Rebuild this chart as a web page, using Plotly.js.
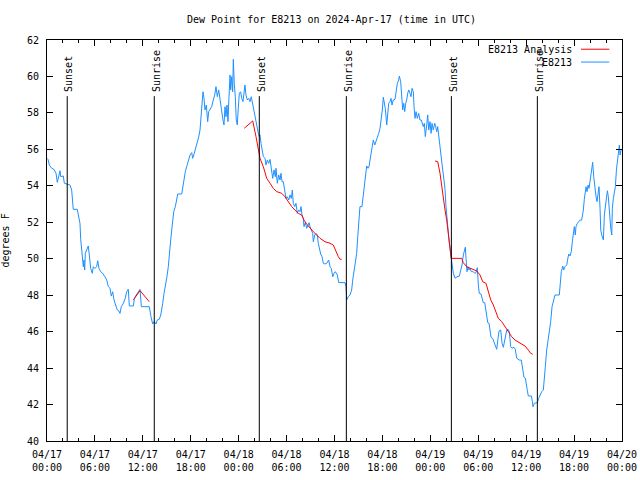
<!DOCTYPE html>
<html>
<head>
<meta charset="utf-8">
<script src="https://cdn.plot.ly/plotly-3.0.1.min.js"></script>
<style>html,body{margin:0;padding:0;background:#fff;}#chart{width:640px;height:480px;}</style>
</head>
<body>
<div id="chart"></div>
<script>
// Hours since 2024-04-17 00:00 UTC
const obsHours = [
0.05,0.13,0.29,0.59,0.88,1.13,1.29,1.42,1.63,1.72,
2.04,2.17,2.54,2.88,3.09,3.17,3.29,3.79,3.92,4.13,
4.22,4.35,4.47,4.55,4.63,4.72,4.80,4.97,5.17,5.30,
5.47,5.67,5.80,6.01,6.22,6.35,6.51,6.72,6.97,7.26,
7.48,7.68,7.89,8.05,8.23,8.39,8.60,8.80,8.98,9.14,
9.30,9.55,9.80,9.98,10.18,10.31,10.81,10.93,11.11,11.36,
11.65,11.81,12.81,13.02,13.23,13.44,13.65,13.81,14.06,14.24,
14.36,14.49,14.65,14.78,14.99,15.19,15.31,15.49,15.62,15.74,
15.87,16.07,16.24,16.37,16.87,16.99,17.16,17.32,17.49,17.69,
17.91,18.12,18.24,18.44,18.62,18.82,19.0,19.16,19.28,19.41,
19.53,19.66,19.78,19.95,20.12,20.25,20.41,20.62,20.82,21.0,
21.16,21.33,21.5,21.66,21.83,22.0,22.16,22.29,22.41,22.54,
22.66,22.79,22.92,23.0,23.13,23.25,23.33,23.45,23.58,23.70,
23.83,23.95,24.08,24.25,24.38,24.54,24.67,24.79,24.92,25.08,
25.26,25.42,25.58,25.76,25.92,26.05,26.26,26.46,26.58,26.67,
26.80,26.96,27.09,27.30,27.42,27.59,27.76,27.93,28.09,28.26,
28.43,28.59,28.68,28.84,29.01,29.18,29.30,29.43,29.59,29.80,
29.93,30.09,30.27,30.43,30.59,30.72,30.84,31.02,31.18,31.34,
31.52,31.68,31.81,31.93,32.09,32.18,32.34,32.52,32.68,32.81,
32.93,33.10,33.27,33.35,33.52,33.68,33.85,33.97,34.10,34.27,
34.44,34.60,34.81,35.03,35.27,35.44,35.60,35.78,35.94,36.10,
36.35,36.53,37.32,37.44,37.53,37.73,37.94,38.15,38.28,38.44,
38.66,38.78,38.91,39.03,39.19,39.44,39.61,39.73,39.86,40.03,
40.20,40.32,40.45,40.57,40.70,40.86,41.04,41.20,41.36,41.54,
41.70,41.86,41.99,42.11,42.24,42.36,42.54,42.66,42.79,42.95,
43.08,43.20,43.36,43.58,43.70,43.87,44.04,44.12,44.29,44.37,
44.54,44.67,44.79,44.92,45.04,45.17,45.29,45.45,45.58,45.71,
45.87,45.96,46.08,46.21,46.37,46.54,46.71,46.87,47.0,47.12,
47.25,47.37,47.55,47.67,47.80,47.96,48.09,48.21,48.37,48.55,
48.67,48.80,48.92,49.05,49.17,49.30,49.42,49.55,49.71,49.84,
49.96,50.09,50.21,50.34,50.46,50.62,50.75,50.88,51.09,51.34,
51.63,51.80,51.97,52.13,52.25,52.38,52.47,52.59,52.72,52.84,
52.97,53.13,53.38,53.56,53.72,53.88,54.01,54.13,54.35,54.47,
54.63,54.81,54.93,55.06,55.19,55.35,55.47,55.60,55.81,55.97,
56.14,56.31,56.48,56.60,56.81,56.98,57.14,57.27,57.44,57.57,
57.73,57.89,58.06,58.23,58.48,58.64,58.82,59.14,59.39,59.57,
59.73,59.90,60.02,60.15,60.27,60.65,60.78,60.86,61.02,61.20,
61.40,61.57,61.73,61.95,62.15,62.27,62.40,62.57,62.74,62.90,
63.07,63.24,63.40,63.61,64.15,64.28,64.40,64.58,64.70,64.86,
65.08,65.20,65.33,65.49,65.65,65.78,65.90,66.03,66.15,66.24,
66.41,66.58,66.74,66.95,67.16,67.28,67.41,67.50,67.62,67.75,
67.87,68.0,68.12,68.25,68.33,68.46,68.58,68.75,68.87,69.0,
69.12,69.25,69.34,69.46,69.59,69.67,69.79,69.92,70.04,70.17,
70.29,70.42,70.59,70.72,70.79,70.92,71.05,71.17,71.30,71.42,
71.55,71.67,71.76,71.88
];
const obsDewF = [
55.5,55.45,55.14,54.96,54.9,54.69,54.19,54.5,54.83,54.5,
54.54,54.14,54.1,54.04,53.77,53.4,52.71,52.71,52.3,51.94,
51.07,50.26,49.93,49.56,49.93,49.38,50.3,50.48,50.7,50.2,
49.47,49.2,49.56,49.47,49.56,49.89,49.47,49.29,49.2,49.01,
48.83,48.47,48.38,47.95,48.19,47.74,47.41,47.19,47.15,47.0,
47.37,47.55,47.83,48.19,48.32,47.41,47.41,47.77,47.97,48.14,
48.32,47.37,47.37,46.82,46.42,46.55,46.42,46.64,46.68,46.91,
47.19,47.55,48.1,48.38,48.93,49.56,50.3,51.03,51.58,52.12,
52.58,52.86,53.31,53.55,53.55,53.95,54.41,54.78,55.05,55.42,
55.69,55.82,55.51,55.78,56.06,56.42,56.69,57.06,57.61,58.34,
59.16,58.8,58.16,58.43,57.52,58.07,58.16,58.34,58.71,58.98,
59.44,58.89,59.26,58.62,58.25,57.7,57.34,58.34,57.79,58.43,
57.52,58.89,60.08,59.26,59.99,59.16,60.94,59.62,58.89,57.61,
57.34,58.25,59.08,59.16,58.8,58.62,59.08,59.53,58.98,58.71,
58.8,58.62,58.89,58.43,58.16,57.89,57.34,56.88,56.7,56.79,
56.33,55.97,55.6,55.51,55.14,55.42,55.23,55.45,54.87,54.41,
54.87,54.5,54.96,54.14,54.6,54.32,54.69,54.23,54.23,53.77,
53.31,53.4,53.22,53.5,53.31,53.77,53.04,52.86,53.04,52.49,
52.67,52.58,52.86,52.4,52.22,51.76,51.98,51.67,51.85,51.98,
51.76,51.58,51.39,50.93,51.3,51.39,51.3,50.85,50.48,50.26,
50.11,49.75,49.71,49.75,49.93,49.56,49.47,49.01,49.2,49.29,
49.11,48.69,48.69,48.47,47.74,47.92,48.01,48.28,48.83,49.38,
49.84,50.3,51.21,52.22,52.86,52.86,53.59,54.14,54.69,55.09,
54.96,55.05,55.42,55.69,56.06,56.51,56.24,56.42,56.6,56.88,
57.16,57.61,58.16,58.86,58.53,58.25,57.34,58.16,58.53,58.62,
58.8,58.43,58.71,58.75,59.08,59.62,59.81,60.02,59.71,59.08,
58.16,58.53,58.07,58.53,58.71,59.08,59.26,59.08,58.89,59.35,
59.16,58.34,57.7,58.07,57.7,57.98,57.61,57.61,57.43,57.25,
57.43,56.7,57.34,57.89,57.06,57.52,56.88,57.43,57.06,57.43,
57.25,56.97,57.25,56.7,56.42,55.78,55.23,54.87,54.32,53.8,
52.86,52.12,51.58,51.03,50.57,50.11,49.56,49.2,48.93,49.01,
49.05,49.29,49.66,50.2,50.48,50.63,50.02,49.29,49.56,49.38,
49.47,49.29,49.29,49.2,49.24,49.51,48.56,48.1,48.06,47.83,
47.59,47.59,47.19,47.0,46.49,46.46,45.91,45.69,45.63,45.45,
45.32,45.03,45.63,46.03,46.09,45.36,45.14,45.45,45.82,46.09,
46.13,46.0,45.18,45.09,45.14,45.03,44.54,44.44,44.44,44.0,
43.49,43.44,42.98,42.76,42.47,42.47,42.16,41.88,42.07,42.1,
42.1,42.34,42.52,42.71,42.8,43.25,44.08,44.99,45.45,45.9,
46.55,47.37,47.74,48.01,48.01,48.65,49.29,49.6,49.38,49.56,
49.66,49.97,50.26,50.15,50.39,50.93,51.39,51.76,51.3,51.76,
51.94,52.03,52.12,52.12,52.67,53.26,53.59,53.95,53.68,54.04,
53.86,54.32,54.69,54.9,55.29,54.5,53.95,53.4,53.13,53.5,
53.95,52.77,51.58,51.3,51.12,51.03,52.4,52.95,53.5,53.73,
53.4,52.49,51.67,51.3,52.77,53.31,53.59,53.95,54.87,55.42,
55.78,56.24,55.69,55.97
];

// Analysis segments (hours since 2024-04-17 00:00 UTC)
const anaHours1 = [10.81,11.65,12.81];
const anaDew1   = [47.74,48.25,47.64];
const anaHours2 = [24.71,25.76,26.17,26.46,26.67,27.09,27.51,27.93,28.34,28.76,29.39,29.80,30.22,30.64,31.05,31.47,31.89,32.18,32.52,32.93,33.35,33.77,34.18,34.81,35.44,35.85,36.19,36.48,36.69,36.90];
const anaDew2   = [57.16,57.56,56.7,55.97,55.51,55.05,54.41,54.14,53.86,53.68,53.59,53.4,53.13,52.86,52.67,52.49,52.4,52.12,51.9,51.67,51.48,51.3,51.12,50.93,50.85,50.75,50.39,50.11,49.97,49.97];
const anaHours3 = [48.59,48.92,49.21,49.42,49.62,49.84,50.05,50.25,50.46,50.62,51.93,52.13,52.56,52.97,53.38,53.81,54.22,54.56,54.97,55.26,55.56,55.89,56.22,56.51,56.94,57.35,57.77,58.19,58.60,59.23,59.86,60.27,60.57,60.82];
const anaDew3   = [55.36,55.33,54.69,53.95,53.4,52.67,52.12,51.48,50.75,50.02,50.02,49.78,49.56,49.47,49.38,49.33,49.11,48.74,48.65,48.19,47.74,47.46,47.09,46.73,46.55,46.27,46.0,45.72,45.54,45.39,45.21,44.99,44.81,44.76];

const sunsetTimes  = ["2024-04-17 02:32","2024-04-18 02:35","2024-04-19 02:38"];
const sunriseTimes = ["2024-04-17 13:26","2024-04-18 13:29","2024-04-19 13:24"];

const xStart = "2024-04-17 00:00";
const xEnd   = "2024-04-20 00:00";
const yTicks = [40,42,44,46,48,50,52,54,56,58,60,62];

const BASE = Date.UTC(2024,3,17,0,0,0);
function toTime(h){
  const d = new Date(BASE + Math.round(h*3600000));
  return d.toISOString().slice(0,19).replace('T',' ');
}

const FONT = "DejaVu Sans Mono, Liberation Mono, monospace";
const RED = "#ff0000";
const BLUE = "#1e90ff";

const traces = [
  {x: obsHours.map(toTime), y: obsDewF, type:'scatter', mode:'lines', line:{color:BLUE, width:1}, name:'E8213', showlegend:false},
  {x: anaHours1.map(toTime), y: anaDew1, type:'scatter', mode:'lines', line:{color:RED, width:1}, name:'E8213 Analysis', showlegend:false},
  {x: anaHours2.map(toTime), y: anaDew2, type:'scatter', mode:'lines', line:{color:RED, width:1}, showlegend:false},
  {x: anaHours3.map(toTime), y: anaDew3, type:'scatter', mode:'lines', line:{color:RED, width:1}, showlegend:false}
];

const shapes = [];
const annotations = [];
function sunEvent(t, label){
  shapes.push({type:'line', xref:'x', yref:'paper', x0:t, x1:t, y0:0, y1:0.86, line:{color:'#000', width:1}});
  annotations.push({xref:'x', yref:'paper', x:t, y:0.866, xshift:2, text:label, textangle:-90, showarrow:false,
    xanchor:'center', yanchor:'bottom', font:{family:FONT, size:10, color:'#000'}});
}
sunsetTimes.forEach(t => sunEvent(t, 'Sunset'));
sunriseTimes.forEach(t => sunEvent(t, 'Sunrise'));

// key (gnuplot style: text right, sample line on its right)
const keyItems = [{label:'E8213 Analysis', color:RED, y:0.977}, {label:'E8213', color:BLUE, y:0.945}];
keyItems.forEach(k => {
  annotations.push({xref:'paper', yref:'paper', x:0.9165, y:k.y, text:k.label, showarrow:false,
    xanchor:'right', yanchor:'middle', font:{family:FONT, size:10, color:'#000'}});
  shapes.push({type:'line', xref:'paper', yref:'paper', x0:0.9287, x1:0.978, y0:k.y, y1:k.y, line:{color:k.color, width:1}});
});

// y axis title
annotations.push({xref:'paper', yref:'paper', x:-0.073, y:0.5, text:'degrees F', textangle:-90, showarrow:false,
  xanchor:'center', yanchor:'middle', font:{family:FONT, size:10, color:'#000'}});

const layout = {
  width:640, height:480,
  margin:{l:47, r:18, t:40, b:39, pad:0},
  paper_bgcolor:'#fff', plot_bgcolor:'#fff',
  font:{family:FONT, size:10, color:'#000'},
  title:{text:'Dew Point for E8213 on 2024-Apr-17 (time in UTC)', x:0.518, xanchor:'center', y:0.96, yanchor:'middle', font:{family:FONT, size:10, color:'#000'}},
  showlegend:false,
  xaxis:{type:'date', range:[xStart, xEnd], tick0:xStart, dtick:6*3600000, tickformat:'%m/%d<br>%H:%M',
    ticks:'inside', ticklen:6, tickcolor:'#000', showline:true, linecolor:'#000', linewidth:1, mirror:'ticks',
    showgrid:false, zeroline:false, tickfont:{family:FONT, size:10, color:'#000'}, ticklabelstandoff:4,
    minor:{dtick:2*3600000, ticks:'inside', ticklen:3, tickcolor:'#000', showgrid:false}},
  yaxis:{range:[40,62], tickvals:yTicks, ticks:'inside', ticklen:6, tickcolor:'#000', showline:true, linecolor:'#000', linewidth:1,
    mirror:'ticks', showgrid:false, zeroline:false, tickfont:{family:FONT, size:10, color:'#000'}, ticklabelstandoff:5},
  shapes:shapes,
  annotations:annotations
};

Plotly.newPlot('chart', traces, layout, {staticPlot:true, displayModeBar:false});
</script>
</body>
</html>
